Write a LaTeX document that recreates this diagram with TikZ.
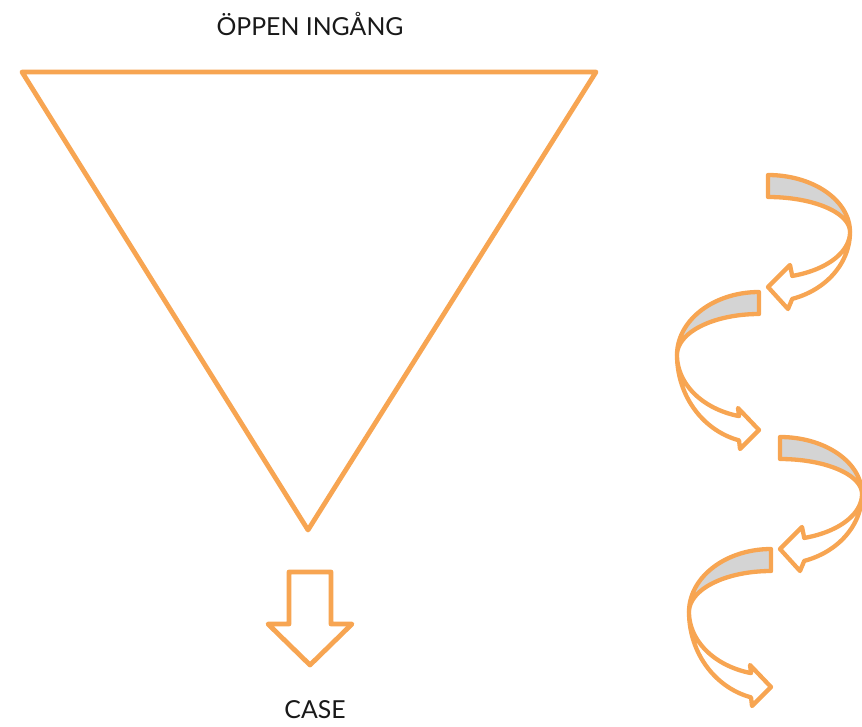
\documentclass[tikz,border=0pt]{standalone}
\usepackage{fontspec}
\setmainfont{Lato}
\definecolor{funnelorange}{RGB}{247,165,82}
\definecolor{bandgray}{RGB}{212,212,212}
\tikzset{
  outline/.style={draw=funnelorange, line width=4.8pt, line join=round},
  band/.style={draw=funnelorange, line width=4.3pt, line join=round},
  label/.style={font=\fontsize{24.8}{29}\selectfont, text=black!90, anchor=base, inner sep=0pt},
}
\newcommand\shapeRightBulge{%
  \filldraw[band, fill=bandgray] plot[domain=-90:0,samples=40] ({82*cos(\x)},{57*sin(\x)}) -- plot[domain=0:-90,samples=40] ({82*cos(\x)},{35*sin(\x)}) -- cycle;
  \filldraw[band, fill=white] plot[domain=0:72.8,samples=40] ({82*cos(\x)},{46*sin(\x)}) -- (22,33) -- (0,55) -- (20,77) -- plot[domain=72.8:0,samples=40] ({82*cos(\x)},{70*sin(\x)}) -- cycle;
}
\newcommand\shapeLeftBulge{%
  \filldraw[band, fill=bandgray] plot[domain=-90:0,samples=40] ({-82*cos(\x)},{63*sin(\x)}) -- plot[domain=0:-90,samples=40] ({-82*cos(\x)},{41*sin(\x)}) -- cycle;
  \filldraw[band, fill=white] plot[domain=0:75.9,samples=40] ({-82*cos(\x)},{63*sin(\x)}) -- (-21,53) -- (0,75) -- (-19,94) -- plot[domain=75.9:0,samples=40] ({-82*cos(\x)},{88*sin(\x)}) -- cycle;
}
\begin{document}
\begin{tikzpicture}[x=1pt,y=-1pt]
\useasboundingbox (0,0) rectangle (862,726);
% funnel
\draw[outline] (22,72) -- (596,72) -- (308,530) -- cycle;
\node[label] (top) at (310,35) {ÖPPEN INGÅNG};
% down arrow
\draw[outline, fill=white] (289,572) -- (331,572) -- (331,624) -- (352,624) -- (310,665) -- (268,624) -- (289,624) -- cycle;
\node[label] (case) at (315,718) {CASE};
% curved arrows
\begin{scope}[shift={(768,232)}] \shapeRightBulge \end{scope}
\begin{scope}[shift={(759,355)}] \shapeLeftBulge \end{scope}
\begin{scope}[shift={(780,494)}] \shapeRightBulge \end{scope}
\begin{scope}[shift={(771,612)}] \shapeLeftBulge \end{scope}
\end{tikzpicture}
\end{document}
